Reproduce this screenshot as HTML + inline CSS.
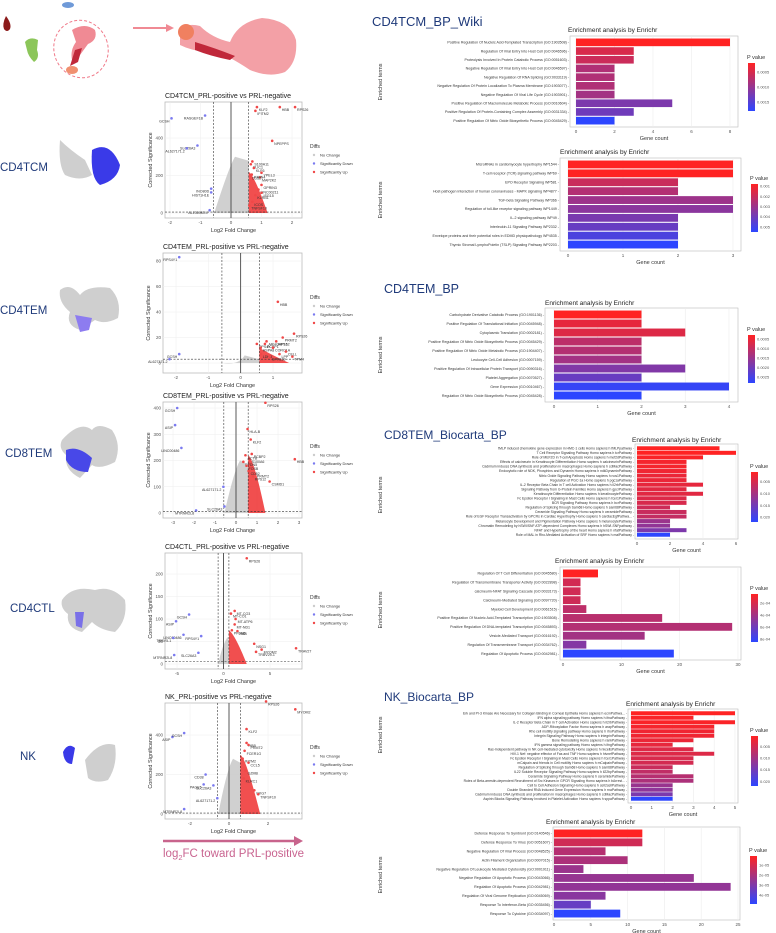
<!DOCTYPE html>
<html><head><meta charset="utf-8">
<style>
html,body{margin:0;padding:0;background:#fff;}
svg{display:block;font-family:"Liberation Sans",sans-serif;}
.hd{font-family:"Liberation Sans",sans-serif;fill:#1f3a7a;}
</style></head>
<body>
<svg id="fig" width="776" height="933" viewBox="0 0 776 933" xmlns="http://www.w3.org/2000/svg">
  <g>
    <path d="M6 16 Q2 24 4 29 Q7 33 10 29 Q12 24 6 16Z" fill="#8b1a1a"/>
    <ellipse cx="68" cy="5" rx="6" ry="3" fill="#6f9ad8"/>
    <path d="M25 42 Q30 36 38 40 L37 50 Q40 58 34 62 Q28 56 27 50Z" fill="#8cc65a"/>
    <ellipse cx="81" cy="49" rx="27" ry="29" fill="none" stroke="#f07a8a" stroke-dasharray="3,2" stroke-width="1" transform="rotate(-20 81 49)"/>
    <path d="M72 30 Q85 22 95 30 Q98 40 88 44 L80 55 Q76 62 72 60 Q70 50 76 42Z" fill="#f08a94"/>
    <path d="M75 50 L82 48 L78 62 L70 66Z" fill="#c0283a"/>
    <ellipse cx="72" cy="70" rx="6" ry="4" fill="#f09070"/>
    <line x1="133" y1="28" x2="168" y2="28" stroke="#f08a94" stroke-width="2"/>
    <path d="M166 24 L174 28 L166 32Z" fill="#f08a94"/>
    <path d="M180 32 Q185 22 200 26 Q212 38 230 42 Q238 22 262 18 Q290 20 296 40 Q298 62 285 72 Q270 78 250 70 Q238 62 230 58 Q215 58 205 52 Q190 50 180 45Z" fill="#f3a0a6"/>
    <path d="M195 42 Q215 48 235 56 L230 60 Q210 56 195 50Z" fill="#c0283a"/>
    <ellipse cx="186" cy="32" rx="8" ry="8" fill="#f08060"/>
  </g>

  <text class="hd" x="0" y="171" font-size="11.5">CD4TCM</text>
  <text class="hd" x="0" y="314" font-size="11.5">CD4TEM</text>
  <text class="hd" x="5" y="457" font-size="11.5">CD8TEM</text>
  <text class="hd" x="10" y="612" font-size="11.5">CD4CTL</text>
  <text class="hd" x="20" y="760" font-size="11.5">NK</text>

  <g>
    <path d="M60 140 Q70 150 85 160 L92 175 Q80 182 65 175 Q58 165 60 140Z" fill="#cfcfcf"/>
    <path d="M92 150 Q110 140 120 165 Q118 180 100 185 Q90 178 92 150Z" fill="#3a3ae8"/>
  </g>
  <g>
    <path d="M60 290 Q70 282 80 295 Q88 285 110 288 Q122 300 118 318 Q105 325 95 320 L80 330 Q65 325 70 312 Q58 302 60 290Z" fill="#cfcfcf"/>
    <path d="M75 315 L92 318 L89 330 L80 332Z" fill="#8d7cf0"/>
  </g>
  <g>
    <path d="M62 440 Q80 420 92 430 Q98 422 112 430 Q122 445 115 462 Q100 470 92 465 L80 478 Q64 470 66 455 Q58 448 62 440Z" fill="#cfcfcf"/>
    <path d="M66 450 Q78 445 92 458 L88 472 Q72 472 66 460Z" fill="#4848e8"/>
  </g>
  <g>
    <path d="M62 600 Q72 585 95 590 Q112 585 125 600 Q128 620 115 632 Q100 630 92 622 L82 632 Q66 628 68 614 Q60 608 62 600Z" fill="#cfcfcf"/>
    <path d="M75 612 L84 612 L82 628 L76 626Z" fill="#7a70e8"/>
  </g>
  <g>
    <path d="M85 760 Q100 740 115 745 Q118 765 108 780 Q95 784 88 778Z" fill="#cfcfcf"/>
    <path d="M63 752 Q68 742 75 748 L72 764 Q64 764 63 752Z" fill="#3a3ae8"/>
  </g>

  <text class="hd" x="372" y="26" font-size="13">CD4TCM_BP_Wiki</text>
  <text class="hd" x="384" y="293" font-size="12.5">CD4TEM_BP</text>
  <text class="hd" x="384" y="439" font-size="12">CD8TEM_Biocarta_BP</text>
  <text class="hd" x="384" y="701" font-size="12">NK_Biocarta_BP</text>

  <line x1="163" y1="841" x2="296" y2="841" stroke="#c8648c" stroke-width="2.5"/>
  <path d="M294 836 L303 841 L294 846Z" fill="#c8648c"/>
  <text x="163" y="857" font-size="11.5" fill="#c96490">log<tspan font-size="7.5" dy="3">2</tspan><tspan dy="-3">FC toward PRL-positive</tspan></text>

  <g id="charts"></g>
</svg>

<script>
const c1Terms = ["Positive Regulation Of Nucleic Acid-Templated Transcription (GO:1903508)","Regulation Of Viral Entry Into Host Cell (GO:0046596)","Proteolysis Involved In Protein Catabolic Process (GO:0051603)","Negative Regulation Of Viral Entry Into Host Cell (GO:0046597)","Negative Regulation Of RNA Splicing (GO:0033119)","Negative Regulation Of Protein Localization To Plasma Membrane (GO:1903077)","Negative Regulation Of Viral Life Cycle (GO:1903901)","Positive Regulation Of Macromolecule Metabolic Process (GO:0010604)","Positive Regulation Of Protein-Containing Complex Assembly (GO:0031334)","Positive Regulation Of Nitric Oxide Biosynthetic Process (GO:0045429)"];
const c1Counts = [8,3,3,2,2,2,2,5,3,2];
const c1P = [0.0002,0.0005,0.0006,0.0008,0.0008,0.0008,0.0009,0.0012,0.0013,0.0018];
const c1XTicks = [0,2,4,6,8];
const c1PTicks = [0.0005,0.0010,0.0015];

const c2Terms = ["MicroRNAs in cardiomyocyte hypertrophy WP1544","T-cell receptor (TCR) signaling pathway WP69","EPO Receptor Signaling WP581","Host-pathogen interaction of human coronaviruses - MAPK signaling WP4877","TGF-beta Signaling Pathway WP366","Regulation of toll-like receptor signaling pathway WP1449","IL-2 signaling pathway WP49","Interleukin-11 Signaling Pathway WP2332","Envelope proteins and their potential roles in EDMD physiopathology WP4535","Thymic Stromal LymphoPoietin (TSLP) Signaling Pathway WP2203"];
const c2Counts = [3,3,2,2,3,3,2,2,2,2];
const c2P = [0.0008,0.0008,0.002,0.0025,0.003,0.0034,0.0038,0.0042,0.0048,0.0055];
const c2XTicks = [0,1,2,3];
const c2PTicks = [0.001,0.002,0.003,0.004,0.005];

const c3Terms = ["Carbohydrate Derivative Catabolic Process (GO:1901136)","Positive Regulation Of Translational Initiation (GO:0045948)","Cytoplasmic Translation (GO:0002181)","Positive Regulation Of Nitric Oxide Biosynthetic Process (GO:0045429)","Positive Regulation Of Nitric Oxide Metabolic Process (GO:1904407)","Leukocyte Cell-Cell Adhesion (GO:0007159)","Positive Regulation Of Intracellular Protein Transport (GO:0090316)","Platelet Aggregation (GO:0070527)","Gene Expression (GO:0010467)","Regulation Of Nitric Oxide Biosynthetic Process (GO:0045428)"];
const c3Counts = [2,2,3,2,2,2,3,2,4,2];
const c3P = [0.0003,0.0006,0.0007,0.0011,0.0012,0.0014,0.0018,0.0021,0.0027,0.0028];
const c3XTicks = [0,1,2,3,4];
const c3PTicks = [0.0005,0.0010,0.0015,0.0020,0.0025];

const c4Terms = ["fMLP induced chemokine gene expression in HMC-1 cells Homo sapiens h fMLPpathway","T Cell Receptor Signaling Pathway Homo sapiens h tcrPathway","Role of MEF2D in T-cell Apoptosis Homo sapiens h mef2dPathway","Effects of calcineurin in Keratinocyte Differentiation Homo sapiens h calcineurinPathway","Cadmium induces DNA synthesis and proliferation in macrophages Homo sapiens h cdMacPathway","Endocytotic role of NDK, Phosphins and Dynamin Homo sapiens h ndkDynaminPathway","Nitric Oxide Signaling Pathway Homo sapiens h nos1Pathway","Regulation of PGC-1a Homo sapiens h pgc1aPathway","IL-2 Receptor Beta Chain in T cell Activation Homo sapiens h il2rbPathway","Signaling Pathway from G-Protein Families Homo sapiens h gpcrPathway","Keratinocyte Differentiation Homo sapiens h keratinocytePathway","Fc Epsilon Receptor I Signaling in Mast Cells Homo sapiens h fcer1Pathway","BCR Signaling Pathway Homo sapiens h bcrPathway","Regulation of Splicing through Sam68 Homo sapiens h sam68Pathway","Ceramide Signaling Pathway Homo sapiens h ceramidePathway","Role of EGF Receptor Transactivation by GPCRs in Cardiac Hypertrophy Homo sapiens h cardiacEgfPathwa...","Melanocyte Development and Pigmentation Pathway Homo sapiens h melanocytePathway","Chromatin Remodeling by hSWI/SNF ATP-dependent Complexes Homo sapiens h hSWI-SNFpathway","NFAT and Hypertrophy of the heart Homo sapiens h nfatPathway","Role of MAL in Rho-Mediated Activation of SRF Homo sapiens h malPathway"];
const c4Counts = [5,6,4,3,3,3,3,3,4,3,4,3,3,2,3,3,2,2,3,2];
const c4P = [0.001,0.001,0.0015,0.002,0.002,0.0025,0.003,0.003,0.0035,0.004,0.004,0.0045,0.005,0.006,0.0065,0.007,0.011,0.012,0.014,0.022];
const c4XTicks = [0,2,4,6];
const c4PTicks = [0.005,0.010,0.015,0.020];

const c5Terms = ["Regulation Of T Cell Differentiation (GO:0045580)","Regulation Of Transmembrane Transporter Activity (GO:0022898)","calcineurin-NFAT Signaling Cascade (GO:0033173)","Calcineurin-Mediated Signaling (GO:0097720)","Myeloid Cell Development (GO:0061515)","Positive Regulation Of Nucleic Acid-Templated Transcription (GO:1903508)","Positive Regulation Of DNA-templated Transcription (GO:0045893)","Vesicle-Mediated Transport (GO:0016192)","Regulation Of Transmembrane Transport (GO:0034762)","Regulation Of Apoptotic Process (GO:0042981)"];
const c5Counts = [6,3,3,3,4,17,29,14,4,19];
const c5P = [0.00005,0.00022,0.00023,0.00024,0.0003,0.00032,0.00034,0.0004,0.00052,0.00085];
const c5XTicks = [0,10,20,30];
const c5PTicks = [0.0002,0.0004,0.0006,0.0008];

const c6Terms = ["Erk and PI-3 Kinase Are Necessary for Collagen Binding in Corneal Epithelia Homo sapiens h ecmPathwa...","IFN alpha signaling pathway Homo sapiens h ifnaPathway","IL-2 Receptor Beta Chain in T cell Activation Homo sapiens h il2rbPathway","ADP-Ribosylation Factor Homo sapiens h arapPathway","Rho cell motility signaling pathway Homo sapiens h rhoPathway","Integrin Signaling Pathway Homo sapiens h integrinPathway","Bone Remodeling Homo sapiens h rankPathway","IFN gamma signaling pathway  Homo sapiens h ifngPathway","Ras-Independent pathway in NK cell-mediated cytotoxicity Homo sapiens h nkcellsPathway","HIV-1 Nef: negative effector of Fas and TNF Homo sapiens h hivnefPathway","Fc Epsilon Receptor I Signaling in Mast Cells Homo sapiens h fcer1Pathway","mCalpain and friends in Cell motility Homo sapiens h mCalpainPathway","Regulation of Splicing through Sam68 Homo sapiens h sam68Pathway","IL22 Soluble Receptor Signaling Pathway  Homo sapiens h il22bpPathway","Ceramide Signaling Pathway Homo sapiens h ceramidePathway","Roles of Beta-arrestin-dependent Recruitment of Src Kinases in GPCR Signaling Homo sapiens h bArrest...","Cell to Cell Adhesion Signaling Homo sapiens h cell2cellPathway","Double Stranded RNA Induced Gene Expression Homo sapiens h rnaPathway","Cadmium induces DNA synthesis and proliferation in macrophages Homo sapiens h cdMacPathway","Aspirin Blocks Signaling Pathway Involved in Platelet Activation Homo sapiens h sppaPathway"];
const c6Counts = [5,3,5,4,4,4,3,2,3,4,3,3,2,2,3,3,2,2,2,2];
const c6P = [0.0005,0.001,0.001,0.0015,0.002,0.002,0.0025,0.003,0.004,0.004,0.0045,0.005,0.006,0.007,0.008,0.009,0.011,0.012,0.014,0.022];
const c6XTicks = [0,1,2,3,4,5];
const c6PTicks = [0.005,0.010,0.015,0.020];

const c7Terms = ["Defense Response To Symbiont (GO:0140546)","Defense Response To Virus (GO:0051607)","Negative Regulation Of Viral Process (GO:0048525)","Actin Filament Organization (GO:0007015)","Negative Regulation Of Leukocyte Mediated Cytotoxicity (GO:0001911)","Negative Regulation Of Apoptotic Process (GO:0043066)","Regulation Of Apoptotic Process (GO:0042981)","Regulation Of Viral Genome Replication (GO:0045069)","Response To Interferon-Beta (GO:0035456)","Response To Cytokine (GO:0034097)"];
const c7Counts = [12,12,7,10,4,19,24,7,5,9];
const c7P = [0.000001,0.000012,0.000018,0.00002,0.000024,0.000025,0.000026,0.000028,0.000036,0.000049];
const c7XTicks = [0,5,10,15,20,25];
const c7PTicks = [0.00001,0.00002,0.00003,0.00004];

const v1Genes = ["GCSH","RASGEF1B","SLC26A3","AL627171.2","INO80D","HIST1H1E","AL136983.4","KLF2","HBB","RPS26","IFITM2","NPEPPS","S100A11","CLIC1","KLF6","YPEL3","MAP2K2","GPRIN3","LINC00211","ISG15","KLRB1","ICOS","TNFSF10","CD52","PTPN4"];
const v1Lfc = [-1.95,-0.85,-1.1,-1.45,-0.65,-0.65,-0.7,0.85,1.6,2.1,0.8,1.35,0.7,0.65,0.75,1.0,0.95,1.0,0.9,1.0,0.8,0.7,0.6,0.62,0.68];
const v1Sig = [505,520,360,345,130,110,15,565,565,565,545,385,275,260,240,215,190,150,125,108,95,60,40,200,205];
const v1Dir = ["D","D","D","D","D","D","D","U","U","U","U","U","U","U","U","U","U","U","U","U","U","U","U","U","U"];

const v2Genes = ["RPS4Y1","GCSH","AL627171.2","HBB","RPS26","PRMT2","ARHGAP15","RPS4X","PCBP1","RPS12","HSPA8","CORO1A","CELL","LPP","LDHB","TPM4","GPR183"];
const v2Lfc = [-1.9,-1.9,-2.2,1.15,1.65,1.3,0.8,0.5,0.75,1.1,0.62,1.0,1.4,1.2,0.62,1.6,0.9];
const v2Sig = [83,7,3,48,23,20,17,15,15,17,12,12,9,7,7,5,5];
const v2Dir = ["D","D","D","U","U","U","U","U","U","U","U","U","U","U","U","U","U"];

const v3Genes = ["GCSH","ASIP","LINC00486","AL627171.2","SLC26A3","MTRNR2L8","RPS26","HLA-B","KLF2","PCBP2","S100A6","HBB","PRMT2","CSMD1","ACTB","PFDN5","FOSB","RPS12","CD52"];
const v3Lfc = [-2.8,-2.9,-2.6,-0.6,-0.55,-1.9,1.4,0.55,0.7,0.75,0.65,2.8,0.9,1.6,0.45,0.35,0.5,0.8,0.6];
const v3Sig = [400,335,248,100,25,10,420,320,280,225,205,205,150,120,220,195,180,140,160];
const v3Dir = ["D","D","D","D","D","D","U","U","U","U","U","U","U","U","U","U","U","U","U"];

const v4Genes = ["RPS26","GCSH","ASIP","LINC00486","RPS4Y1","TRBV5-1","SLC26A3","MTRNR2L8","MT-CO3","MT-ATP6","MT-ND1","HBB","NSG1","MYOM2","TRAV27","TRBV29-1","MT-CO1","PFDN5"];
const v4Lfc = [2.5,-3.7,-5.1,-4.3,-2.4,-5.4,-2.7,-5.3,1.2,1.3,1.2,1.5,3.3,4.1,7.8,3.5,0.8,0.9];
const v4Sig = [235,110,95,65,62,58,25,20,118,100,88,73,45,32,35,27,112,75];
const v4Dir = ["U","D","D","D","D","D","D","D","U","U","U","U","U","U","U","U","U","U"];

const v5Genes = ["ASIP","GCSH","CD38","PAGE5","SLC26A3","AL627171.2","MTRNR2L8","RPS26","MYOM2","KLF2","HBB","PRMT2","FCER1G","IFITM2","CCL5","GZMB","KLRC1","NKG7","TNFSF10"];
const v5Lfc = [-2.9,-2.3,-1.2,-1.3,-0.8,-0.6,-2.3,1.9,3.4,0.9,0.9,1.0,0.8,0.7,1.0,0.85,0.75,1.3,1.5];
const v5Sig = [390,410,200,150,145,80,25,570,530,430,360,350,320,280,260,220,180,120,100];
const v5Dir = ["D","D","D","D","D","D","D","U","U","U","U","U","U","U","U","U","U","U","U"];

const v1XTicks=[-2,-1,0,1,2], v1YTicks=[0,200,400];
const v2XTicks=[-2,-1,0,1], v2YTicks=[0,20,40,60,80];
const v3XTicks=[-3,-2,-1,0,1,2,3], v3YTicks=[0,100,200,300,400];
const v4XTicks=[-5,0,5], v4YTicks=[0,50,100,150,200];
const v5XTicks=[-2,0,2], v5YTicks=[0,200,400];

const NS="http://www.w3.org/2000/svg";
const root=document.getElementById('charts');
function mk(tag,attrs,parent){const e=document.createElementNS(NS,tag);for(const k in attrs)e.setAttribute(k,attrs[k]);(parent||root).appendChild(e);return e;}
function txt(s,attrs,parent){const e=mk('text',attrs,parent);e.textContent=s;return e;}
function pcolor(p,lo,hi){let t=(p-lo)/(hi-lo);t=Math.max(0,Math.min(1,t));
  const r=Math.round(255+(45-255)*t),g=Math.round(35+(70-35)*t),b=Math.round(35+(255-35)*t);return `rgb(${r},${g},${b})`;}

function barChart(id,terms,counts,pv,xt,pt,L){
  const g=mk('g',{});
  
  
  const x=v=>L.x0+(v/xt[xt.length-1])*(L.xmax-L.x0);
  const n=terms.length, bh=(L.y1-L.y0)/n;
  const t=txt('Enrichment analysis by Enrichr',{x:L.tx,y:L.ty,'font-size':L.tfs||7,fill:'#222'},g);
  
  
  const pr=mk('rect',{x:L.px0,y:L.y0-2,width:L.px1-L.px0,height:L.y1-L.y0+4,fill:'#fff',stroke:'#bbb','stroke-width':0.6},g);
  
  
  xt.forEach(v=>{mk('line',{x1:x(v),x2:x(v),y1:L.y0-2,y2:L.y1+2,stroke:'#ececec','stroke-width':0.6},g);
    const tl=txt(String(v),{x:x(v),y:L.y1+8,'font-size':4.5,fill:'#555','text-anchor':'middle'},g);
    
    });
  const lo=Math.min(...pv),hi=Math.max(...pv);
  terms.forEach((term,i)=>{
    const yy=L.y0+i*bh;
    const b=mk('rect',{x:x(0),y:yy+bh*0.06,width:x(counts[i])-x(0),height:bh*0.88,fill:pcolor(pv[i],lo,hi)},g);
    
    
    const lb=txt(term+' -',{x:L.px0-1,y:yy+bh/2+L.lfs*0.35,'font-size':L.lfs,fill:'#333','text-anchor':'end'},g);
    
    
  });
  const gx=txt('Gene count',{x:(L.px0+L.px1)/2,y:L.y1+15,'font-size':5.5,fill:'#333','text-anchor':'middle'},g);
  
  
  if(L.ylab){const yl=txt('Enriched terms',{x:0,y:0,'font-size':5.5,fill:'#333','text-anchor':'middle',transform:`translate(${L.ylab[0]},${L.ylab[1]}) rotate(-90)`},g);
    
    }
  const lg=mk('g',{},g);
  
  
  txt('P value',{x:L.lx,y:L.ly,'font-size':5.5,fill:'#333'},lg);
  const gid='grad-'+id;
  const defs=mk('defs',{},lg);const gr=mk('linearGradient',{id:gid,x1:0,y1:0,x2:0,y2:1},defs);
  mk('stop',{offset:'0%','stop-color':pcolor(lo,lo,hi)},gr);mk('stop',{offset:'50%','stop-color':pcolor((lo+hi)/2,lo,hi)},gr);mk('stop',{offset:'100%','stop-color':pcolor(hi,lo,hi)},gr);
  const cb=mk('rect',{x:L.lx+1,y:L.ly+4,width:7,height:L.lh,fill:`url(#${gid})`},lg);
  
  
  pt.forEach(v=>{const yy=L.ly+4+(v-lo)/(hi-lo)*L.lh;
    let s=v<0.0001||(v<0.001&&id.indexOf('c5')>=0)?v.toExponential(0).replace('e-','e-0'):v.toFixed(String(v).length>5?4:3);
    if(id==='c1'||id==='c3') s=v.toFixed(4);
    txt(s,{x:L.lx+10,y:yy+1.5,'font-size':4,fill:'#555'},lg);});
}

barChart('c1',c1Terms,c1Counts,c1P,c1XTicks,c1PTicks,{tx:568,ty:32,tfs:6.5,px0:570,px1:738,y0:38,y1:125,x0:576,xmax:730,lfs:3.6,lx:747,ly:59,lh:48,ylab:[382,82]});
barChart('c2',c2Terms,c2Counts,c2P,c2XTicks,c2PTicks,{tx:560,ty:154,tfs:6.5,px0:560,px1:741,y0:160,y1:249,x0:568,xmax:733,lfs:3.6,lx:750,ly:180,lh:48,ylab:[382,200]});
barChart('c3',c3Terms,c3Counts,c3P,c3XTicks,c3PTicks,{tx:545,ty:305,tfs:6.5,px0:545,px1:738,y0:310,y1:400,x0:554,xmax:729,lfs:3.6,lx:747,ly:331,lh:48,ylab:[382,355]});
barChart('c4',c4Terms,c4Counts,c4P,c4XTicks,c4PTicks,{tx:632,ty:442,tfs:6.5,px0:635,px1:738,y0:446,y1:537,x0:637,xmax:736,lfs:3.4,lx:750,ly:468,lh:50,ylab:[382,495]});
barChart('c5',c5Terms,c5Counts,c5P,c5XTicks,c5PTicks,{tx:555,ty:563,tfs:6.5,px0:560,px1:741,y0:569,y1:658,x0:563,xmax:738,lfs:3.6,lx:750,ly:590,lh:48,ylab:[382,610]});
barChart('c6',c6Terms,c6Counts,c6P,c6XTicks,c6PTicks,{tx:626,ty:706,tfs:6.5,px0:628,px1:738,y0:711,y1:801,x0:631,xmax:735,lfs:3.4,lx:750,ly:732,lh:50,ylab:[382,735]});
barChart('c7',c7Terms,c7Counts,c7P,c7XTicks,c7PTicks,{tx:546,ty:824,tfs:6.5,px0:553,px1:740,y0:829,y1:918,x0:554,xmax:738,lfs:3.6,lx:749,ly:852,lh:48,ylab:[382,875]});

function volcano(id,title,genes,lfc,sig,dir,xt,yt,L){
  const g=mk('g',{});
  
  
  const X=v=>L.xa+(v-xt[0])/(xt[xt.length-1]-xt[0])*(L.xb-L.xa);
  const Y=v=>L.ya+(v-yt[0])/(yt[yt.length-1]-yt[0])*(L.yb-L.ya);
  const tt=txt(title,{x:L.px0,y:L.py0-4,'font-size':7,fill:'#222'},g);
  
  
  const pr=mk('rect',{x:L.px0,y:L.py0,width:L.px1-L.px0,height:L.py1-L.py0,fill:'#fff',stroke:'#bbb','stroke-width':0.8},g);
  
  
  xt.forEach(v=>{mk('line',{x1:X(v),x2:X(v),y1:L.py0,y2:L.py1,stroke:'#eee','stroke-width':0.5},g);
    const a=txt(String(v),{x:X(v),y:L.py1+6,'font-size':4.5,fill:'#555','text-anchor':'middle'},g);
    
    });
  yt.forEach(v=>{mk('line',{x1:L.px0,x2:L.px1,y1:Y(v),y2:Y(v),stroke:'#eee','stroke-width':0.5},g);
    const a=txt(String(v),{x:L.px0-2,y:Y(v)+1.5,'font-size':4.5,fill:'#555','text-anchor':'end'},g);
    
    });
  const z=X(0),zp=X(0.58),top=Y(L.cloud);
  mk('path',{d:`M${X(-0.55)} ${Y(0)} Q${z-2} ${top+10} ${z+4} ${top} L${zp} ${top+4} L${zp} ${Y(0)}Z`,fill:'#c8c8c8',opacity:0.85},g);
  mk('path',{d:`M${zp} ${Y(L.red)} Q${zp+6} ${Y(L.red)+4} ${X(L.redx)} ${Y(0)} L${zp} ${Y(0)}Z`,fill:'#ee3030',opacity:0.85},g);
  mk('line',{x1:z,x2:z,y1:L.py0,y2:L.py1,stroke:'#333','stroke-width':0.8},g);
  [-0.58,0.58].forEach(v=>mk('line',{x1:X(v),x2:X(v),y1:L.py0,y2:L.py1,stroke:'#333','stroke-width':0.6,'stroke-dasharray':'2,1.5'},g));
  mk('line',{x1:L.px0,x2:L.px1,y1:Y(L.hth),y2:Y(L.hth),stroke:'#333','stroke-width':0.6,'stroke-dasharray':'2,1.5'},g);
  genes.forEach((gn,i)=>{
    const px=X(lfc[i]),py=Y(sig[i]);
    const c=mk('circle',{cx:px,cy:py,r:1.3,fill:dir[i]==='U'?'#f04848':'#7a7af0'},g);
    
    
    const lb=txt(gn,{x:px+(dir[i]==='U'?2:-2),y:py+4,'font-size':3.6,fill:'#333','text-anchor':dir[i]==='U'?'start':'end'},g);
    
    
  });
  const xl=txt('Log2 Fold Change',{x:(L.px0+L.px1)/2,y:L.py1+14,'font-size':5.5,fill:'#333','text-anchor':'middle'},g);
  
  
  const yl=txt('Corrected Significance',{x:0,y:0,'font-size':5.5,fill:'#333','text-anchor':'middle',transform:`translate(${L.px0-13},${(L.py0+L.py1)/2}) rotate(-90)`},g);
  
  
  const lg=mk('g',{},g);
  
  
  txt('Diffs',{x:310,y:L.ly,'font-size':5,fill:'#333'},lg);
  [['No Change','#ccc'],['Significantly Down','#7a7af0'],['Significantly Up','#f04848']].forEach((e,k)=>{
    mk('circle',{cx:314,cy:L.ly+7+k*8.5,r:1.2,fill:e[1]},lg);
    txt(e[0],{x:320,y:L.ly+8.5+k*8.5,'font-size':4,fill:'#333'},lg);});
}
volcano('cd4tcm','CD4TCM_PRL-positive vs PRL-negative',v1Genes,v1Lfc,v1Sig,v1Dir,v1XTicks,v1YTicks,{px0:165,px1:302,py0:102,py1:218,xa:170,xb:292,ya:213,yb:138,cloud:300,red:220,redx:1.2,hth:5,ly:148});
volcano('cd4tem','CD4TEM_PRL-positive vs PRL-negative',v2Genes,v2Lfc,v2Sig,v2Dir,v2XTicks,v2YTicks,{px0:163,px1:302,py0:253,py1:373,xa:176,xb:273,ya:363,yb:261,cloud:6,red:12,redx:1.5,hth:3,ly:299});
volcano('cd8tem','CD8TEM_PRL-positive vs PRL-negative',v3Genes,v3Lfc,v3Sig,v3Dir,v3XTicks,v3YTicks,{px0:163,px1:302,py0:402,py1:518,xa:173,xb:299,ya:513,yb:408,cloud:200,red:220,redx:1.4,hth:5,ly:448});
volcano('cd4ctl','CD4CTL_PRL-positive vs PRL-negative',v4Genes,v4Lfc,v4Sig,v4Dir,v4XTicks,v4YTicks,{px0:165,px1:302,py0:553,py1:669,xa:177,xb:270,ya:664,yb:574,cloud:60,red:75,redx:2.5,hth:5,ly:599});
volcano('nk','NK_PRL-positive vs PRL-negative',v5Genes,v5Lfc,v5Sig,v5Dir,v5XTicks,v5YTicks,{px0:165,px1:302,py0:703,py1:819,xa:190,xb:268,ya:814,yb:735,cloud:280,red:300,redx:1.6,hth:5,ly:749});
</script>
</body></html>
